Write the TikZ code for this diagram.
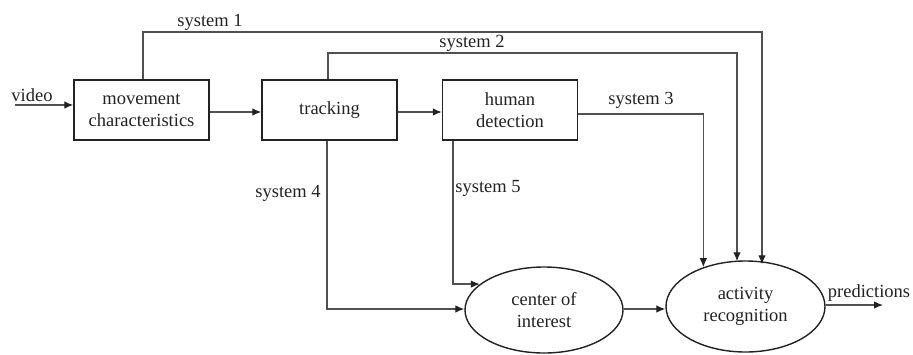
\documentclass[tikz,border=0pt]{standalone}
\usepackage{fontspec}
\setmainfont{Liberation Serif}
\usetikzlibrary{shapes.geometric,arrows.meta}
\definecolor{ink}{HTML}{222222}
\definecolor{wire}{HTML}{505050}
\tikzset{
  box/.style={draw=ink, line width=1.4pt, minimum width=135pt, minimum height=60pt, inner sep=0pt, align=center, text=ink, font=\fontsize{18.5}{22}\selectfont},
  oval/.style={draw=ink, line width=1.4pt, ellipse, inner sep=0pt, align=center, text=ink, font=\fontsize{18.5}{22}\selectfont},
  conn/.style={draw=wire, line width=1.2pt, -{Latex[length=9pt,width=7.5pt,color=ink]}},
  lbl/.style={text=ink, font=\fontsize{18.5}{22}\selectfont, inner sep=0pt},
}
\begin{document}
\begin{tikzpicture}[x=1pt,y=-1pt]
\useasboundingbox (0,0) rectangle (913,354);
\node[box] (mc) at (141.5,110) {movement\\characteristics};
\node[box] (tr) at (329.5,110) {tracking};
\node[box] (hd) at (510,110) {human\\detection};
\node[oval, minimum width=158pt, minimum height=86pt] (coi) at (544,310) {center of\\interest};
\node[oval, minimum width=159pt, minimum height=91pt] (ar) at (745.5,306.5) {activity\\recognition};

\coordinate (vin) at (15,105);
\coordinate (pout) at (883,305);
\coordinate (y1) at (0,32);
\coordinate (y2) at (0,53);
\coordinate (y4) at (0,309);
\coordinate (y5) at (0,287);

% main chain
\draw[conn] (vin) -- (vin -| mc.west);
\draw[conn] ([yshift=-2pt]mc.east) -- ([yshift=-2pt]tr.west);
\draw[conn] ([yshift=-2pt]tr.east) -- ([yshift=-2pt]hd.west);
\draw[conn] (coi.east |- y4) -- (ar.west |- y4);
\draw[conn] (ar.east |- pout) -- (pout);

% system 1
\draw[conn] ([xshift=1.5pt]mc.north) -- ([xshift=1.5pt]mc.north |- y1) -| ([xshift=16.5pt,yshift=-4pt]ar.north);
% system 2
\draw[conn] ([xshift=-1.5pt]tr.north) -- ([xshift=-1.5pt]tr.north |- y2) -| ([xshift=-8.5pt,yshift=-1pt]ar.north);
% system 3
\draw[conn] ([yshift=-4pt]hd.east) -| (ar.137);
% system 4
\draw[conn] ([xshift=-2.5pt]tr.south) |- (coi.west |- y4);
% system 5
\draw[conn] ([xshift=-57pt]hd.south) |- (coi.158);

% labels
\node[lbl] (lv) at (32,95) {video};
\node[lbl] (l1) at (210,22) {system 1};
\node[lbl] (l2) at (472,43) {system 2};
\node[lbl] (l3) at (641,100) {system 3};
\node[lbl] (l4) at (288,193) {system 4};
\node[lbl] (l5) at (488,188) {system 5};
\node[lbl] (lp) at (869,293) {predictions};
\end{tikzpicture}
\end{document}
